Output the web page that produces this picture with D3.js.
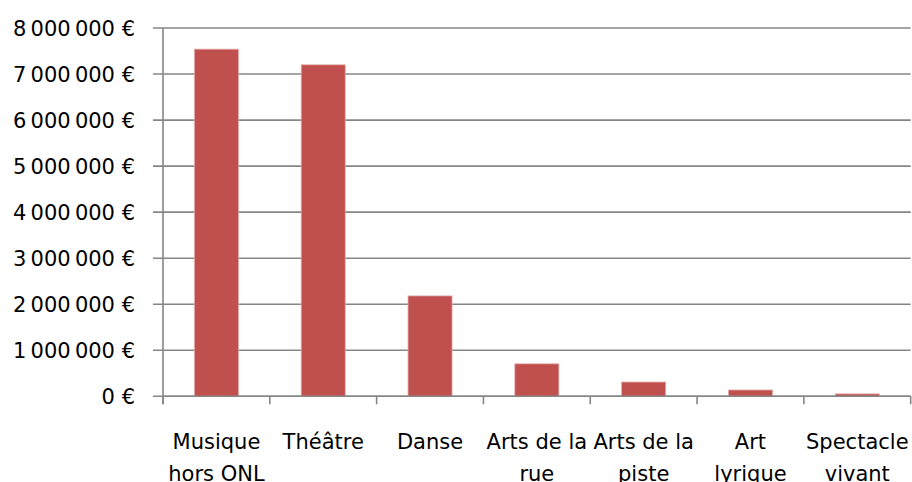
<!DOCTYPE html>
<html>
<head>
<meta charset="utf-8">
<script src="https://cdn.jsdelivr.net/npm/d3@7"></script>
<style>
  html, body { margin: 0; padding: 0; background: #ffffff; }
  svg { display: block; }
  text { font-family: "DejaVu Sans", sans-serif; fill: #000; }
</style>
</head>
<body>
<div id="chart"></div>
<script>
// ---- data ----
const categories = [
  "Musique hors ONL",
  "Théâtre",
  "Danse",
  "Arts de la rue",
  "Arts de la piste",
  "Art lyrique",
  "Spectacle vivant"
];
const categoryLines = [
  ["Musique", "hors ONL"],
  ["Théâtre"],
  ["Danse"],
  ["Arts de la", "rue"],
  ["Arts de la", "piste"],
  ["Art", "lyrique"],
  ["Spectacle", "vivant"]
];
const values = [7540000, 7200000, 2180000, 705000, 310000, 137000, 52000];
const yTicks = [0, 1000000, 2000000, 3000000, 4000000, 5000000, 6000000, 7000000, 8000000];

// ---- layout ----
const W = 912, H = 482;
const mLeft = 163, mRight = 910.7, mTop = 28, mBottom = 396.3;
const gridColor = "#868686";
const barColor = "#C0504D";

const svg = d3.select("#chart").append("svg")
  .attr("width", W).attr("height", H);

const y = d3.scaleLinear().domain([0, 8000000]).range([mBottom, mTop]);
const xOuter = d3.scaleBand().domain(categories).range([mLeft, mRight]).padding(0);
const x = d3.scaleBand().domain(categories).range([mLeft, mRight])
  .paddingInner(0.588).paddingOuter(0.294);

const loc = d3.formatLocale({ decimal: ",", thousands: "\u2009", grouping: [3], currency: ["", " €"] });
const fmt = v => loc.format(",d")(v) + " €";

// gridlines + y ticks
svg.append("g").selectAll("line").data(yTicks).join("line")
  .attr("x1", mLeft - 10).attr("x2", mRight)
  .attr("y1", d => y(d)).attr("y2", d => y(d))
  .attr("stroke", gridColor).attr("stroke-width", 1.6);

// y labels
svg.append("g").selectAll("text").data(yTicks).join("text")
  .attr("x", 135).attr("y", d => y(d))
  .attr("dy", "0.36em")
  .attr("text-anchor", "end")
  .style("font-size", "21px")
  .text(d => fmt(d));

// bars
svg.append("g").selectAll("rect").data(values).join("rect")
  .attr("x", (d, i) => x(categories[i]))
  .attr("width", x.bandwidth())
  .attr("y", d => y(d))
  .attr("height", d => y(0) - y(d))
  .attr("fill", barColor)
  .attr("stroke", "#e2a9a7").attr("stroke-width", 0.8);

// y axis line
svg.append("line")
  .attr("x1", mLeft).attr("x2", mLeft)
  .attr("y1", mTop).attr("y2", mBottom + 8)
  .attr("stroke", gridColor).attr("stroke-width", 1.6);

// x axis line
svg.append("line")
  .attr("x1", mLeft).attr("x2", mRight)
  .attr("y1", mBottom).attr("y2", mBottom)
  .attr("stroke", gridColor).attr("stroke-width", 1.6);

// x ticks at band boundaries
const bounds = categories.map(c => xOuter(c)).concat([mRight]);
svg.append("g").selectAll("line").data(bounds).join("line")
  .attr("x1", d => d).attr("x2", d => d)
  .attr("y1", mBottom).attr("y2", mBottom + 8)
  .attr("stroke", gridColor).attr("stroke-width", 1.6);

// x labels
const lab = svg.append("g").selectAll("text").data(categories).join("text")
  .attr("text-anchor", "middle")
  .style("font-size", "21px")
  .attr("transform", c => `translate(${xOuter(c) + xOuter.bandwidth() / 2},448.5)`);
lab.selectAll("tspan").data((c, i) => categoryLines[i]).join("tspan")
  .attr("x", 0)
  .attr("y", (d, j) => j * 32)
  .text(d => d);
</script>
</body>
</html>
